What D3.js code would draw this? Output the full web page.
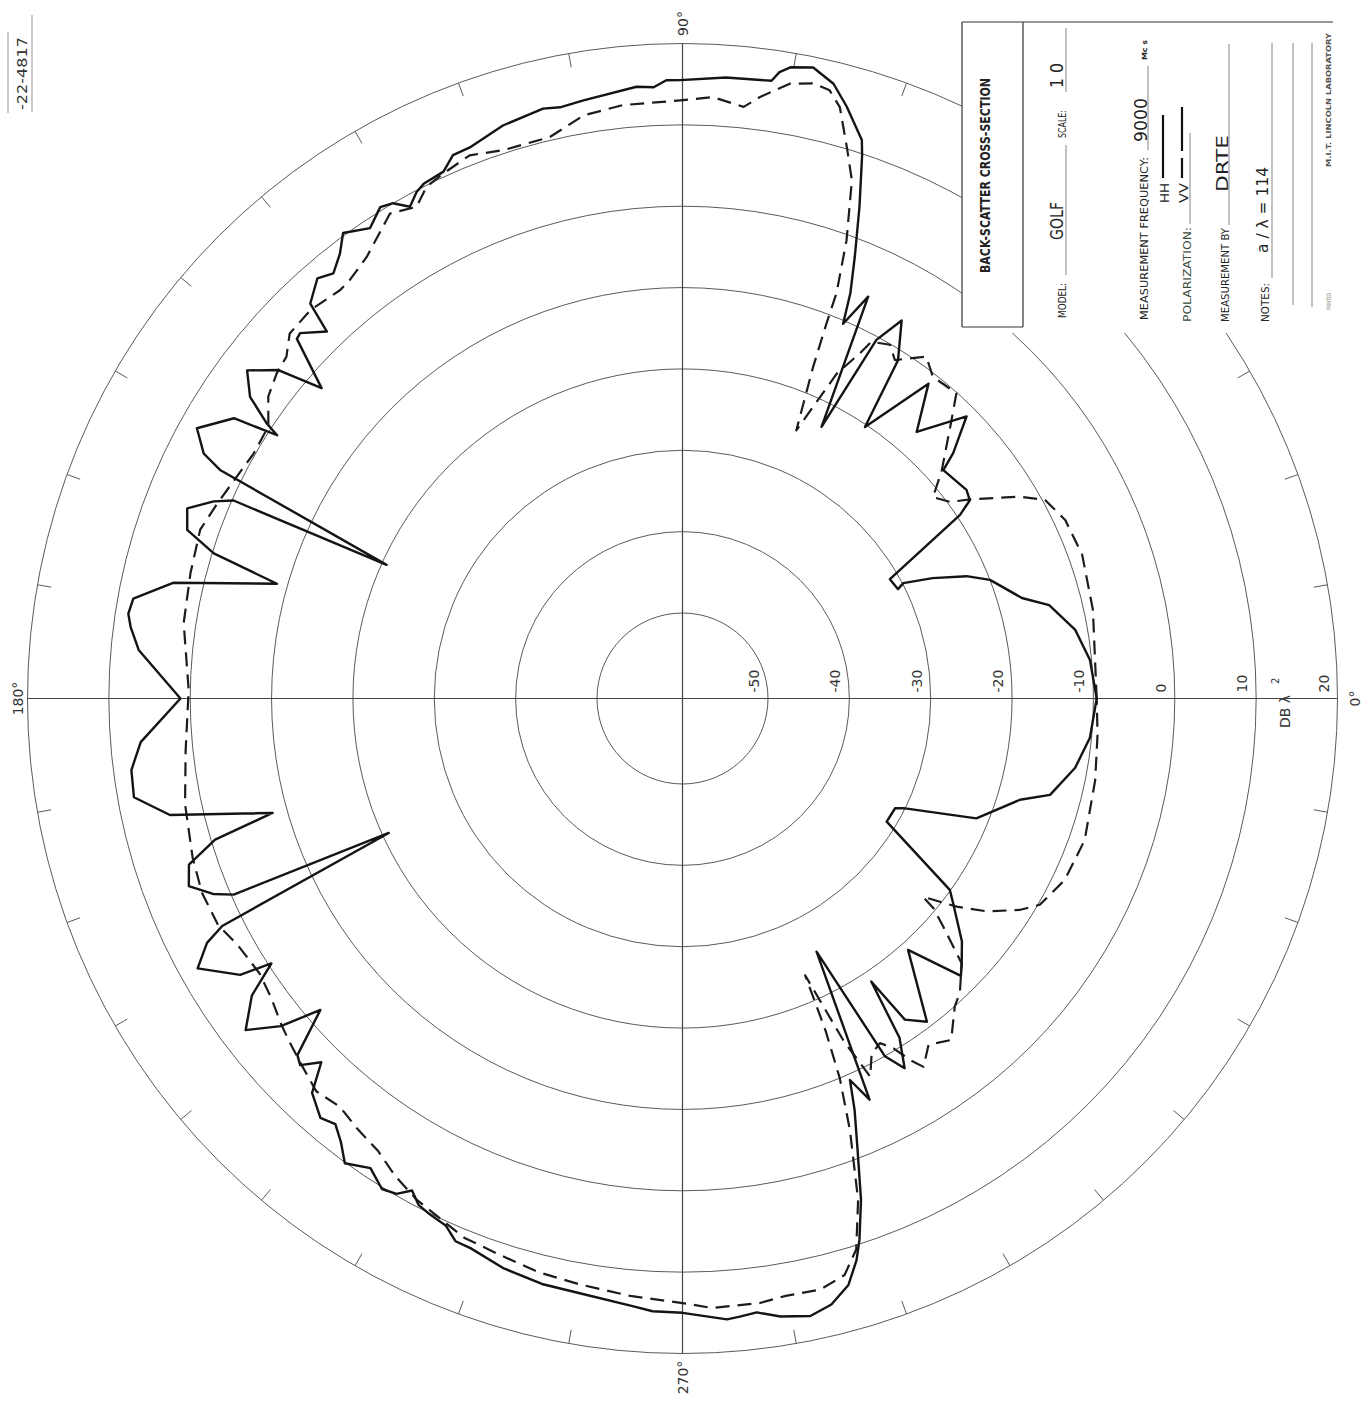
<!DOCTYPE html>
<html><head><meta charset="utf-8">
<script src="https://cdn.jsdelivr.net/npm/d3@7"></script>
<style>body{margin:0;background:#fff}</style>
</head><body><svg id="c" width="1366" height="1408"></svg>
<script>
// ---- data ----
const ringLevels = [-50,-40,-30,-20,-10,0,10,20];
const ringLabels = ["-50","-40","-30","-20","-10","0","10","20"];
const angleTicks = [0,90,180,270];
const angleTickLabels = ["0°","90°","180°","270°"];
// HH polarization (solid): [angle deg, dB]
const hhSeries = [
[0,-9.6],[5.4,-10.2],[9.9,-11.5],[14.3,-14.0],[16.5,-17.0],[21.1,-20.0],[23.3,-22.5],[25.7,-26.4],[27.6,-29.9],[26.9,-30.8],[29.9,-31.1],
[33.5,-19.6],[34.6,-17.6],[36.3,-17.2],[41.2,-17.9],[42.2,-15.6],[44.8,-11.3],[48.7,-16.9],[52.0,-11.4],[56.1,-20.3],[57.5,-11.2],
[59.9,-6.8],[61.6,-10.4],[62.9,-23.0],[65.2,-6.1],[66.8,-10.4],[67.5,-6.6],[68.7,-2.2],[70.2,3.7],[71.7,9.8],[72.2,11.6],[74.5,15.0],
[76.2,17.3],[78.3,18.7],[80.3,18.2],[81.2,17.4],[81.8,16.2],[86.0,16.0],[90.2,15.5],[91.5,15.5],[92.7,14.7],[94.3,14.9],[99.4,14.0],
[101.7,13.7],[103.3,14.0],[107.4,13.3],[111.1,12.1],[112.9,12.0],[114.4,10.6],[116.7,10.3],[117.7,9.8],[119.0,8.6],[120.3,10.0],
[121.6,10.4],[123.6,8.9],[126.1,10.3],[127.6,8.5],[129.4,7.1],[131.0,7.9],[133.3,6.2],[134.1,2.3],[136.3,4.5],[137.0,4.3],[139.3,-2.0],
[140.9,3.5],[143.0,6.5],[145.1,4.3],[146.5,0.8],[147.0,-1.1],[148.0,4.5],[150.9,7.8],[152.9,5.6],[153.7,2.9],[155.7,-20.6],[156.2,-0.2],
[157.2,2.0],[159.0,4.7],[161.2,3.8],[162.8,-0.2],[164.2,-8.7],[167.2,3.7],[169.7,8.1],[171.3,8.4],[172.6,7.9],[174.9,6.6],[180,1.2],
[184.6,6.3],[187.4,7.8],[190.2,8.0],[192.8,4.1],[195.6,-8.2],[196.8,-0.5],[198.6,3.5],[200.8,4.4],[202.6,2.0],[203.6,-0.3],[204.6,-20.8],
[206.3,2.6],[207.2,5.2],[209.1,7.7],[212.0,3.6],[212.8,-0.4],[214.6,3.8],[217.2,6.9],[219.2,3.2],[220.7,-1.8],[222.8,4.0],[223.8,4.6],
[225.2,2.5],[226.8,6.0],[229.2,7.6],[230.8,7.0],[232.4,8.3],[234.0,10.1],[236.4,8.8],[238.5,10.2],[240.0,9.8],[241.2,8.5],[242.5,9.7],
[243.9,10.1],[245.8,10.5],[247.3,11.8],[248.9,11.9],[252.6,12.9],[256.5,13.5],[260.4,13.7],[265.2,14.4],[267.2,14.9],[270.0,15.0],
[274.1,16.0],[275.3,15.8],[276.9,15.5],[279.0,16.4],[281.7,17.0],[283.8,16.2],[285.8,14.4],[287.2,11.8],[288.1,9.5],[289.6,4.9],
[291.2,-1.0],[292.7,-5.7],[293.7,-9.3],[295.0,-6.1],[297.9,-25.3],[299.5,-10.0],[301.0,-7.5],[302.6,-11.0],[303.7,-18.7],[304.7,-12.5],
[307.1,-10.7],[311.9,-19.0],[315.1,-12.2],[316.5,-13.2],[319.0,-15.0],[322.9,-18.8],[324.4,-20.1],[328.9,-31.2],[332.7,-31.1],
[333.6,-30.2],[337.8,-21.5],[343.3,-17.2],[345.3,-13.8],[350.0,-11.5],[354.5,-10.2],[360,-9.6]
];
// VV polarization (dashed): [angle deg, dB]
const vvSeries = [
[0,-9.6],[12.2,-8.9],[19.8,-8.3],[25.0,-8.6],[28.7,-9.7],[30.9,-12.2],[34.7,-17.5],[36.3,-19.7],[38.8,-21.0],[41.2,-18.2],[46.0,-12.9],
[48.1,-10.1],[52.1,-10.4],[54.5,-8.9],[57.9,-11.4],[59.6,-10.1],[62.1,-10.9],[62.8,-12.8],[64.6,-16.3],[67.0,-24.7],[68.5,-16.7],
[69.0,-11.1],[69.2,-7.2],[70.3,-0.7],[71.9,6.5],[73.4,10.2],[75.1,14.7],[76.4,16.4],[78.0,16.8],[80.1,16.2],[82.7,14.0],[84.1,12.6],
[87.1,13.5],[90.2,13.0],[95.7,12.8],[99.6,12.2],[103.3,10.4],[108.1,10.4],[111.4,11.2],[114.5,10.4],[116.6,9.8],[118.4,8.2],[121.1,9.1],
[125.6,6.2],[128.5,5.2],[130.0,5.0],[133.8,5.6],[137.1,5.4],[139.2,3.8],[141.3,3.4],[143.9,2.5],[146.7,0.4],[150.3,0.2],[153.6,0.7],
[157.3,1.5],[160.7,2.3],[165.7,1.9],[171.4,1.5],[179.0,0.2],
[186,0.9],[192,2.0],[198,2.8],[202,3.2],[206,3.0],[209,2.0],[213,1.5],[216,2.0],[219,3.0],[221,3.6],[224,4.5],[227,5.5],[230,5.0],
[233,5.8],[236,6.5],[239,8.0],[242,9.2],[245,10.0],[248,11.0],[252,11.5],[256,12.2],[260,12.6],[265,13.2],[270,13.8],[272.8,14.5],
[277.3,14.4],[279.8,14.0],[283.1,14.1],[285.7,13.1],[287.5,10.5],[289.3,4.8],[291.2,-3.6],[292.5,-10.0],[293.3,-16.0],[293.9,-23.3],
[295.2,-14.0],[296.4,-8.6],[298.0,-11.0],[299.8,-11.7],[301.1,-10.3],[302.2,-8.0],[303.2,-6.4],[305.4,-8.3],[308.2,-7.1],[311.5,-10.0],
[313.3,-10.8],[316.5,-13.2],[318.8,-17.9],[320.1,-20.3],[320.5,-22.2],[322.8,-18.2],[325.0,-14.9],[327.9,-11.6],[330,-9.8],[334.6,-8.5],
[340.6,-8.1],[348.8,-8.8],[355,-9.3],[360,-9.6]
];

// ---- drawing ----
const W = 1366, H = 1408, cx = 682.5, cy = 698.5;
const svg = d3.select("#c");
svg.append("rect").attr("width",W).attr("height",H).attr("fill","#fff");
const rScale = d3.scaleLinear().domain([-50,20]).range([85.5,655]);
const aScale = d3.scaleLinear().domain([0,360]).range([Math.PI/2, Math.PI/2 - 2*Math.PI]);
const R = rScale(20);
const g = svg.append("g").attr("transform",`translate(${cx},${cy})`);
const grid = "#5a5a5a";

g.selectAll("circle.ring").data(ringLevels).join("circle")
  .attr("class","ring").attr("r",d=>rScale(d)).attr("fill","none")
  .attr("stroke",grid).attr("stroke-width",1);
g.append("line").attr("x1",-R).attr("x2",R).attr("y1",0).attr("y2",0).attr("stroke","#444").attr("stroke-width",1.2);
g.append("line").attr("y1",-R).attr("y2",R).attr("x1",0).attr("x2",0).attr("stroke","#444").attr("stroke-width",1.2);

const tickAngles = d3.range(0,360,10).filter(a=>a%90!==0);
g.selectAll("line.tick").data(tickAngles).join("line").attr("class","tick")
  .attr("x1",a=>(R-14)*Math.sin(aScale(a))).attr("y1",a=>-(R-14)*Math.cos(aScale(a)))
  .attr("x2",a=>R*Math.sin(aScale(a))).attr("y2",a=>-R*Math.cos(aScale(a)))
  .attr("stroke",grid).attr("stroke-width",1);

const line = d3.lineRadial().angle(d=>aScale(d[0])).radius(d=>rScale(d[1])).curve(d3.curveLinear);
g.append("path").attr("d",line(vvSeries)).attr("fill","none").attr("stroke","#1c1c1c")
  .attr("stroke-width",2.2).attr("stroke-dasharray","14,8").attr("stroke-linejoin","round");
g.append("path").attr("d",line(hhSeries)).attr("fill","none").attr("stroke","#141414")
  .attr("stroke-width",2.4).attr("stroke-linejoin","round");

const font = "'DejaVu Sans', 'Liberation Sans', sans-serif";
// dB labels
g.selectAll("text.db").data(ringLevels).join("text").attr("class","db")
  .attr("transform",(d)=>`translate(${rScale(d)-9},-6) rotate(-90)`)
  .attr("text-anchor","start").attr("font-family",font).attr("font-size",14).attr("fill","#333")
  .text((d,i)=>ringLabels[i]);
// DB lambda^2
g.append("text").attr("transform",`translate(${1290-cx},${728-cy}) rotate(-90)`)
  .attr("font-family",font).attr("font-size",14).attr("fill","#333").text("DB λ");
g.append("text").attr("transform",`translate(${1279-cx},${684-cy}) rotate(-90)`)
  .attr("font-family",font).attr("font-size",10).attr("fill","#333").text("2");
// angle labels
const angleLabelR = {0:672, 90:675, 180:665, 270:679};
g.selectAll("text.ang").data(angleTicks).join("text").attr("class","ang")
  .attr("transform",a=>{const rr = angleLabelR[a];return `translate(${rr*Math.sin(aScale(a))},${-rr*Math.cos(aScale(a))}) rotate(-90)`;})
  .attr("text-anchor","middle").attr("dominant-baseline","central")
  .attr("font-family",font).attr("font-size",14).attr("fill","#333")
  .text((d,i)=>angleTickLabels[i]);

// ---- info box ----
svg.append("rect").attr("x",962).attr("y",0).attr("width",404).attr("height",333).attr("fill","#fff");
const bx = svg.append("g").attr("stroke","#333").attr("stroke-width",1.2);
bx.append("line").attr("x1",962).attr("x2",1333).attr("y1",22).attr("y2",22);
bx.append("line").attr("x1",962).attr("x2",962).attr("y1",22).attr("y2",327);
bx.append("line").attr("x1",1023).attr("x2",1023).attr("y1",22).attr("y2",327);
bx.append("line").attr("x1",962).attr("x2",1023).attr("y1",327).attr("y2",327);
const fieldLines = [[1066,275,145],[1066,92,28],[1148,150,66],[1190,224,133],[1229,225,44],[1272,278,43],[1293,305,43],[1312,307,43]];
bx.selectAll("line.f").data(fieldLines).join("line").attr("class","f")
  .attr("x1",d=>d[0]).attr("x2",d=>d[0]).attr("y1",d=>d[1]).attr("y2",d=>d[2]).attr("stroke-width",0.9).attr("stroke","#777");
// legend line samples
svg.append("line").attr("x1",1163).attr("x2",1163).attr("y1",178).attr("y2",115).attr("stroke","#111").attr("stroke-width",2.2);
svg.append("line").attr("x1",1182).attr("x2",1182).attr("y1",178).attr("y2",158).attr("stroke","#111").attr("stroke-width",2.2);
svg.append("line").attr("x1",1182).attr("x2",1182).attr("y1",151).attr("y2",107).attr("stroke","#111").attr("stroke-width",2.2);

function vtext(x,y,t,size,opts={}){
  const el = svg.append("text").attr("transform",`translate(${x},${y}) rotate(-90)`)
    .attr("font-family",opts.family||font).attr("font-size",size).attr("fill",opts.fill||"#222")
    .attr("font-weight",opts.weight||"normal").attr("text-anchor",opts.anchor||"start").text(t);
  if(opts.len) el.attr("textLength",opts.len).attr("lengthAdjust","spacingAndGlyphs");
  return el;
}
vtext(990,273,"BACK-SCATTER CROSS-SECTION",14,{weight:"bold",len:195});
vtext(1066,318,"MODEL:",10,{len:35});
vtext(1063,240,"GOLF",17,{len:38});
vtext(1066,138,"SCALE:",10,{len:28});
vtext(1063,88,"1 0",17,{len:25});
vtext(1148,320,"MEASUREMENT FREQUENCY:",10,{len:163});
vtext(1147,142,"9000",18,{len:44});
vtext(1147,60,"Mc s",7,{weight:"bold",len:20});
vtext(1169,203,"HH",13,{len:20});
vtext(1188,203,"VV",13,{len:20});
vtext(1191,322,"POLARIZATION:",10,{len:95,fill:"#3c4a3c"});
vtext(1229,322,"MEASUREMENT BY",10,{len:94});
vtext(1228,192,"DRTE",16,{len:57});
vtext(1269,322,"NOTES:",10,{len:39});
vtext(1268,253,"a / λ = 114",16,{len:86});
vtext(1331,167,"M.I.T. LINCOLN LABORATORY",7,{weight:"bold",len:134,fill:"#555"});
vtext(1331,310,"PRINTED",6,{len:17,fill:"#777"});

// file number top-left
vtext(27,110,"-22-4817",14,{len:73,fill:"#333"});
svg.append("line").attr("x1",8).attr("x2",8).attr("y1",32).attr("y2",113).attr("stroke","#999").attr("stroke-width",1);
svg.append("line").attr("x1",32).attr("x2",32).attr("y1",15).attr("y2",112).attr("stroke","#999").attr("stroke-width",1);
</script></body></html>
